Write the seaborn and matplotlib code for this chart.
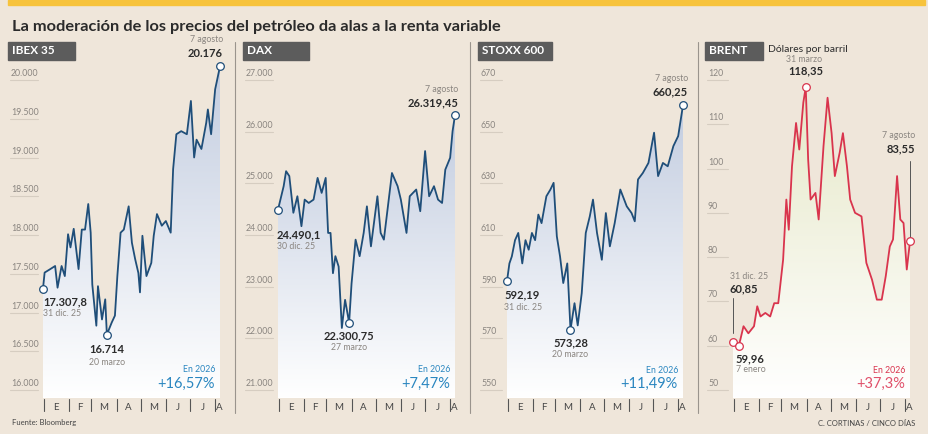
import numpy as np
import pandas as pd
import matplotlib.pyplot as plt
import seaborn as sns
from matplotlib.colors import LinearSegmentedColormap
from matplotlib.lines import Line2D
import warnings
warnings.filterwarnings('ignore')

# Days counted from 31 dic. 25 (day 0) to 7 agosto (day 219)
ibex_days = [0, 2, 9, 15, 18, 23, 27, 31, 34, 38, 44, 48, 52, 56, 59, 61, 66, 68, 73, 77, 79, 85, 89, 92, 96, 100,
             106, 110, 114, 118, 120, 123, 128, 134, 137, 141, 147, 152, 158, 161, 165, 171, 178, 183, 187, 190,
             196, 202, 204, 208, 213, 219]
ibex_vals = [17307.8, 17515, 17560, 17600, 17320, 17600, 17470, 18010, 17840, 18080, 17560, 18070, 18070, 18400,
             18030, 17360, 16830, 17340, 16910, 17170, 16714, 16870, 16960, 17470, 18030, 18070, 18370, 17900, 17690,
             17510, 17260, 17990, 17470, 17640, 17990, 18270, 18120, 18180, 18030, 18850, 19300, 19340, 19300, 19730,
             19000, 19230, 19110, 19450, 19620, 19300, 19880, 20176]

dax_days = [0, 3, 7, 10, 14, 19, 24, 29, 33, 38, 44, 49, 54, 59, 62, 65, 68, 71, 75, 79, 83, 88, 91, 96, 101, 106,
            110, 115, 123, 127, 131, 136, 141, 148, 152, 159, 163, 171, 176, 182, 187, 193, 198, 203, 207, 213, 216,
            219]
dax_vals = [24490.1, 24685, 24945, 25235, 25140, 24430, 24750, 24170, 24685, 24620, 24685, 25105, 24815, 25105,
            24040, 24040, 23260, 23590, 23390, 22200, 22745, 22300.75, 23060, 23910, 23590, 24040, 24555, 23780,
            24750, 24040, 23910, 24555, 25200, 24945, 24685, 24040, 24750, 24880, 24460, 25625, 24750, 24945, 24685,
            24620, 25265, 25495, 26010, 26319.45]

stoxx_days = [0, 3, 6, 10, 14, 19, 23, 27, 31, 35, 39, 43, 49, 54, 58, 62, 66, 70, 75, 79, 84, 88, 93, 98, 103,
              107, 112, 118, 123, 128, 134, 141, 149, 155, 159, 163, 169, 176, 183, 188, 194, 200, 207, 213, 219]
stoxx_vals = [592.19, 599, 601.7, 608, 610.8, 599, 608, 604.3, 610.8, 608, 617.9, 614.6, 625, 627.6, 630.2, 609.5,
              601.7, 591.4, 599, 573.28, 583.6, 575, 587.5, 610.8, 617.2, 623.7, 610.8, 600.4, 618.5, 605.6, 614.6,
              627.6, 621.1, 618.5, 615.3, 631.5, 634, 637.9, 649.6, 632.8, 637.9, 636.6, 644.4, 648.3, 660.25]

brent_days = [0, 7, 9, 13, 19, 26, 30, 34, 40, 46, 51, 56, 62, 66, 69, 73, 78, 82, 87, 90, 93, 96, 102, 106, 112,
              117, 122, 126, 132, 136, 141, 145, 151, 159, 165, 172, 178, 184, 189, 194, 198, 203, 207, 211, 215, 219]
brent_vals = [60.85, 59.96, 61.3, 64.4, 62.8, 64.4, 68.9, 66.6, 67.4, 66.6, 69.6, 69.6, 79.4, 93, 86.2, 100.5,
              110.3, 104.3, 114.9, 118.35, 102, 93, 94.5, 88.5, 105.1, 116, 108, 98.3, 103.6, 108, 100.5, 93, 90,
              89.2, 78.7, 74.9, 70.4, 70.4, 75.7, 82.4, 84, 98.3, 88.5, 87.7, 77.2, 83.55]

ibex_ticks = [16000, 16500, 17000, 17500, 18000, 18500, 19000, 19500, 20000]
dax_ticks = [21000, 22000, 23000, 24000, 25000, 26000, 27000]
stoxx_ticks = [550, 570, 590, 610, 630, 650, 670]
brent_ticks = [50, 60, 70, 80, 90, 100, 110, 120]

month_bounds = [1, 32, 60, 91, 121, 152, 182, 213]
month_labels = ['E', 'F', 'M', 'A', 'M', 'J', 'J', 'A']

W, H = 929, 434
BG = '#efe6da'
DARK = '#2b2b2b'
GREY = '#8a8580'


def px(x, y):
    return x / W, 1 - y / H


def fmt_es(v):
    return f"{v:,.0f}".replace(',', '.')


def draw_panel(fig, left, start, end, days, vals, ticks, line_color, fill_color, title, box_w):
    """One small-multiple panel placed by pixel coordinates."""
    top_px, bot_px = 60, 398
    x0, y0 = px(left, bot_px)
    x1, y1 = px(end + 2, top_px)
    ax = fig.add_axes([x0, y0, x1 - x0, y1 - y0])
    ax.set_facecolor('none')
    # x scale: day 0 at start px, day 219 at end px
    dpp = 219 / (end - start)
    # y scale: first tick at px 390, last tick at px 80
    vpp = (ticks[-1] - ticks[0]) / (390 - 80)
    ymax = ticks[-1] + (80 - top_px) * vpp
    ymin = ticks[0] - (bot_px - 390) * vpp

    xl = -(start - left) * dpp
    for t in ticks:
        ax.plot([xl + 2 * dpp, -5 * dpp], [t, t], color='#d6cdc1', lw=0.8)
        lab = fmt_es(t) if t >= 1000 else str(t)
        ax.text(xl + 3 * dpp, t + 2 * vpp, lab, fontsize=6.3, color=GREY, va='bottom', ha='left')

    # gradient fill under the line
    poly = ax.fill_between(days, vals, ymin, color='none', lw=0)
    cmap = LinearSegmentedColormap.from_list('g', ['#ffffff', fill_color])
    grad = np.linspace(0, 1, 256).reshape(-1, 1)
    im = ax.imshow(grad, cmap=cmap, aspect='auto', origin='lower',
                   extent=[0, 219, ymin, max(vals)], zorder=1)
    im.set_clip_path(poly.get_paths()[0], transform=ax.transData)

    df = pd.DataFrame({'day': days, 'val': vals})
    sns.lineplot(data=df, x='day', y='val', ax=ax, color=line_color, lw=1.3, zorder=3)
    ax.set_xlim(xl, 219 + 2 * dpp)
    ax.set_ylim(ymin, ymax)
    ax.axis('off')

    # month ticks
    for b in month_bounds:
        ax.plot([b, b], [ymin - 1 * vpp, ymin - 13 * vpp], color='#555555', lw=0.8, clip_on=False)
    mids = [(a + b) / 2 for a, b in zip(month_bounds, month_bounds[1:] + [222])]
    for m, lab in zip(mids, month_labels):
        ax.text(m, ymin - 9 * vpp, lab, fontsize=7, color='#444444', ha='center', va='center')

    # header box
    fig.add_artist(plt.Rectangle(px(left, 60), box_w / W, 18 / H, color='#5c5c5c', transform=fig.transFigure))
    fig.text((left + 4) / W, 1 - 51 / H, title, fontsize=8.5, fontweight='bold', color='white', va='center')
    return ax, vpp


def marker(ax, x, y, color):
    ax.plot(x, y, 'o', ms=5.5, mfc='white', mec=color, mew=0.9, zorder=5, clip_on=False)


def label(ax, x, y, dx, dy, s, bold=False, size=8, color=DARK, ha='center'):
    ax.annotate(s, (x, y), xytext=(dx, dy), textcoords='offset pixels', fontsize=size, ha=ha, va='center',
                fontweight='bold' if bold else 'normal', color=color, annotation_clip=False)


def main():
    sns.set_style('white')
    plt.rcParams['font.family'] = ['Lato', 'DejaVu Sans']
    fig = plt.figure(figsize=(9.29, 4.34), dpi=100, facecolor=BG)

    fig.add_artist(plt.Rectangle((8 / W, 1 - 5 / H), 917 / W, 5 / H, color='#f7c33c', transform=fig.transFigure))
    fig.text(12 / W, 1 - 27 / H, 'La moderación de los precios del petróleo da alas a la renta variable',
             fontsize=11.8, fontweight='bold', color=DARK, va='center')
    fig.text(12 / W, 1 - 423 / H, 'Fuente: Bloomberg', fontsize=5.5, color='#444444', va='center')
    fig.text(915 / W, 1 - 423 / H, 'C. CORTINAS / CINCO DÍAS', fontsize=5.5, color='#444444', va='center', ha='right')
    for xd in [235, 470, 698]:
        fig.add_artist(Line2D([xd / W, xd / W], [1 - 42 / H, 1 - 413 / H], color='#9a948d', lw=0.8))

    blue, red = '#1f4e79', '#d9344d'
    bfill, rfill = '#c3cde0', '#e6e8c8'
    pct_blue = '#2a86c0'

    # IBEX 35
    ax, v = draw_panel(fig, 8, 43, 220, ibex_days, ibex_vals, ibex_ticks, blue, bfill, 'IBEX 35', 67)
    marker(ax, 0, 17307.8, blue)
    label(ax, 0, 17307.8, 0, -13, '17.307,8', True, ha='left')
    label(ax, 0, 17307.8, 0, -25, '31 dic. 25', size=6.3, color=GREY, ha='left')
    marker(ax, 79, 16714, blue)
    label(ax, 79, 16714, 0, -15, '16.714', True)
    label(ax, 79, 16714, 0, -28, '20 marzo', size=6.3, color=GREY)
    marker(ax, 219, 20176, blue)
    label(ax, 219, 20176, 3, 13, '20.176', True, ha='right')
    label(ax, 219, 20176, 3, 27, '7 agosto', size=6.3, color=GREY, ha='right')
    label(ax, 219, 16000, -5, 20, 'En 2026', size=6.3, color=pct_blue, ha='right')
    label(ax, 219, 16000, -5, 6, '+16,57%', size=10.5, color=pct_blue, ha='right')

    # DAX
    ax, v = draw_panel(fig, 243, 278, 455, dax_days, dax_vals, dax_ticks, blue, bfill, 'DAX', 66)
    marker(ax, 0, 24490.1, blue)
    label(ax, 0, 24490.1, -1, -25, '24.490,1', True, ha='left')
    label(ax, 0, 24490.1, -1, -37, '30 dic. 25', size=6.3, color=GREY, ha='left')
    marker(ax, 88, 22300.75, blue)
    label(ax, 88, 22300.75, 0, -13, '22.300,75', True)
    label(ax, 88, 22300.75, 0, -25, '27 marzo', size=6.3, color=GREY)
    marker(ax, 219, 26319.45, blue)
    label(ax, 219, 26319.45, 3, 12, '26.319,45', True, ha='right')
    label(ax, 219, 26319.45, 3, 26, '7 agosto', size=6.3, color=GREY, ha='right')
    label(ax, 219, 21000, -5, 20, 'En 2026', size=6.3, color=pct_blue, ha='right')
    label(ax, 219, 21000, -5, 6, '+7,47%', size=10.5, color=pct_blue, ha='right')

    # STOXX 600
    ax, v = draw_panel(fig, 478, 507, 683, stoxx_days, stoxx_vals, stoxx_ticks, blue, bfill, 'STOXX 600', 74)
    marker(ax, 0, 592.19, blue)
    label(ax, 0, 592.19, -3, -14, '592,19', True, ha='left')
    label(ax, 0, 592.19, -3, -26, '31 dic. 25', size=6.3, color=GREY, ha='left')
    marker(ax, 79, 573.28, blue)
    label(ax, 79, 573.28, 0, -13, '573,28', True)
    label(ax, 79, 573.28, 0, -25, '20 marzo', size=6.3, color=GREY)
    marker(ax, 219, 660.25, blue)
    label(ax, 219, 660.25, 5, 13, '660,25', True, ha='right')
    label(ax, 219, 660.25, 5, 27, '7 agosto', size=6.3, color=GREY, ha='right')
    label(ax, 219, 550, -5, 20, 'En 2026', size=6.3, color=pct_blue, ha='right')
    label(ax, 219, 550, -5, 6, '+11,49%', size=10.5, color=pct_blue, ha='right')

    # BRENT
    ax, v = draw_panel(fig, 705, 733, 910, brent_days, brent_vals, brent_ticks, red, rfill, 'BRENT', 58)
    fig.text(768 / W, 1 - 50 / H, 'Dólares por barril', fontsize=7.5, color=DARK, va='center')
    ax.plot([0, 0], [60.85 + 2, 60.85 + 44 * v], color='#555555', lw=0.7)
    marker(ax, 0, 60.85, red)
    label(ax, 0, 60.85, -3, 65, '31 dic. 25', size=6.3, color=GREY, ha='left')
    label(ax, 0, 60.85, -3, 53, '60,85', True, ha='left')
    marker(ax, 7, 59.96, red)
    label(ax, 7, 59.96, -3, -13, '59,96', True, ha='left')
    label(ax, 7, 59.96, -3, -24, '7 enero', size=6.3, color=GREY, ha='left')
    marker(ax, 90, 118.35, red)
    label(ax, 90, 118.35, 0, 16, '118,35', True)
    label(ax, 90, 118.35, -2, 28, '31 marzo', size=6.3, color=GREY)
    ax.plot([219, 219], [83.55 + 1, 83.55 + 80 * v], color='#555555', lw=0.7)
    marker(ax, 219, 83.55, red)
    label(ax, 219, 83.55, 5, 93, '83,55', True, ha='right')
    label(ax, 219, 83.55, 5, 106, '7 agosto', size=6.3, color=GREY, ha='right')
    label(ax, 219, 50, -5, 20, 'En 2026', size=6.3, color=red, ha='right')
    label(ax, 219, 50, -5, 6, '+37,3%', size=10.5, color='#e0506a', ha='right')

    fig.savefig('out.png', dpi=100, facecolor=BG)


if __name__ == '__main__':
    main()
